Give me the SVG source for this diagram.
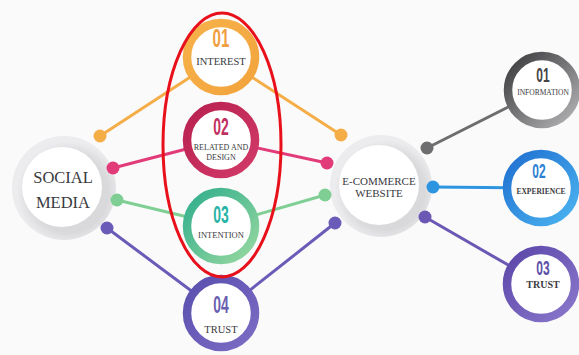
<svg xmlns="http://www.w3.org/2000/svg" width="579" height="355" viewBox="0 0 579 355">
<defs>
<linearGradient id="gOr" x1="0" y1="0" x2="1" y2="1"><stop offset="0" stop-color="#f7b24a"/><stop offset="1" stop-color="#f2a33c"/></linearGradient>
<linearGradient id="gCr" x1="0" y1="0" x2="1" y2="1"><stop offset="0" stop-color="#b8204f"/><stop offset="1" stop-color="#d23a6a"/></linearGradient>
<linearGradient id="gGr" x1="0" y1="0" x2="1" y2="1"><stop offset="0" stop-color="#2fae8c"/><stop offset="1" stop-color="#98d8a0"/></linearGradient>
<linearGradient id="gPu" x1="0" y1="0" x2="1" y2="1"><stop offset="0" stop-color="#5a4fae"/><stop offset="1" stop-color="#7c6cc4"/></linearGradient>
<linearGradient id="gGy" x1="0" y1="0" x2="1" y2="1"><stop offset="0" stop-color="#3a3a3c"/><stop offset="1" stop-color="#b5b5b8"/></linearGradient>
<linearGradient id="gBl" x1="0" y1="0" x2="1" y2="1"><stop offset="0" stop-color="#1f6fd0"/><stop offset="1" stop-color="#4cb4f0"/></linearGradient>
<linearGradient id="gPr" x1="0" y1="0" x2="1" y2="1"><stop offset="0" stop-color="#5b46a8"/><stop offset="1" stop-color="#8a78cc"/></linearGradient>
<radialGradient id="gHalo" cx="0.55" cy="0.55" r="0.5"><stop offset="0.75" stop-color="#d9d9dc"/><stop offset="1" stop-color="#ececee"/></radialGradient>
</defs>
<style>
.lbl{font-family:"Liberation Serif","Times New Roman",serif;fill:#3a3a3e;text-anchor:middle}
.num{font-family:"Liberation Sans",Arial,sans-serif;text-anchor:middle;font-weight:bold}
.ln{fill:none;stroke-width:3;stroke-linecap:round}
.in{fill:#ffffff}
</style>
<rect width="579" height="355" fill="#fafafa"/>
<g id="connectors">
<line class="ln" x1="100" y1="136" x2="221" y2="57" stroke="#f5ad48"/>
<line class="ln" x1="221" y1="57" x2="341" y2="135" stroke="#f5ad48"/>
<line class="ln" x1="113" y1="168" x2="221" y2="140" stroke="#e23b7a"/>
<line class="ln" x1="221" y1="140" x2="327" y2="163" stroke="#e23b7a"/>
<line class="ln" x1="117" y1="200" x2="221" y2="225" stroke="#7fcf94"/>
<line class="ln" x1="221" y1="225" x2="325" y2="195" stroke="#7fcf94"/>
<line class="ln" x1="107" y1="228" x2="221" y2="313" stroke="#6a5bb8"/>
<line class="ln" x1="221" y1="313" x2="335" y2="223" stroke="#6a5bb8"/>
<line class="ln" x1="427" y1="148" x2="542" y2="90" stroke="#6e6e70"/>
<line class="ln" x1="433" y1="187" x2="541" y2="188" stroke="#2d95e0"/>
<line class="ln" x1="425" y1="217" x2="541" y2="284" stroke="#6b58b4"/>
</g>
<g id="social-media">
<circle cx="64" cy="188" r="52" fill="url(#gHalo)"/>
<circle cx="62" cy="187" r="40" class="in"/>
<text class="lbl" x="63" y="183" font-size="16.5">SOCIAL</text>
<text class="lbl" x="63" y="208" font-size="16.5">MEDIA</text>
<circle cx="100" cy="136" r="6.5" fill="#f5ad48"/>
<circle cx="113" cy="168" r="6.5" fill="#e23b7a"/>
<circle cx="117" cy="200" r="6.5" fill="#7fcf94"/>
<circle cx="107" cy="228" r="6.5" fill="#6a5bb8"/>
</g>
<g id="ecommerce">
<circle cx="381" cy="186" r="51" fill="url(#gHalo)"/>
<circle cx="379" cy="185" r="40" class="in"/>
<text class="lbl" x="379" y="185" font-size="11">E-COMMERCE</text>
<text class="lbl" x="379" y="197" font-size="11">WEBSITE</text>
<circle cx="341" cy="135" r="6.5" fill="#f5ad48"/>
<circle cx="327" cy="163" r="6.5" fill="#e23b7a"/>
<circle cx="325" cy="195" r="6.5" fill="#7fcf94"/>
<circle cx="335" cy="223" r="6.5" fill="#6a5bb8"/>
<circle cx="427" cy="148" r="6.5" fill="#6e6e70"/>
<circle cx="433" cy="187" r="6.5" fill="#2d95e0"/>
<circle cx="425" cy="217" r="6.5" fill="#6b58b4"/>
</g>
<g id="interest">
<circle cx="221" cy="57" r="34" class="in" stroke="url(#gOr)" stroke-width="8.5"/>
<text class="num" font-size="26" fill="#f0a040" transform="translate(221,47) scale(0.58,1)">01</text>
<text class="lbl" x="221" y="65" font-size="10.5">INTEREST</text>
</g>
<g id="related-design">
<circle cx="221" cy="140" r="34" class="in" stroke="url(#gCr)" stroke-width="8.5"/>
<text class="num" font-size="24" fill="#c2305f" transform="translate(221,135) scale(0.58,1)">02</text>
<text class="lbl" x="221" y="150" font-size="8">RELATED AND</text>
<text class="lbl" x="221" y="160" font-size="8">DESIGN</text>
</g>
<g id="intention">
<circle cx="221" cy="226" r="34" class="in" stroke="url(#gGr)" stroke-width="8.5"/>
<text class="num" font-size="24" fill="#26b3a3" transform="translate(221,223) scale(0.58,1)">03</text>
<text class="lbl" x="221" y="238" font-size="8.5">INTENTION</text>
</g>
<g id="trust-left">
<circle cx="221" cy="313" r="34" class="in" stroke="url(#gPu)" stroke-width="8.5"/>
<text class="num" font-size="24" fill="#6a5fb0" transform="translate(221,313) scale(0.58,1)">04</text>
<text class="lbl" x="221" y="333" font-size="10.5">TRUST</text>
</g>
<g id="information">
<circle cx="542" cy="90" r="34" class="in" stroke="url(#gGy)" stroke-width="8.5"/>
<text class="num" font-size="20" fill="#444446" transform="translate(543,82) scale(0.6,1)">01</text>
<text class="lbl" x="543" y="95" font-size="7.5">INFORMATION</text>
</g>
<g id="experience">
<circle cx="541" cy="188" r="34" class="in" stroke="url(#gBl)" stroke-width="8.5"/>
<text class="num" font-size="20" fill="#2a7fd4" transform="translate(539,178) scale(0.6,1)">02</text>
<text class="lbl" x="541" y="194" font-size="7.5" font-weight="bold">EXPERIENCE</text>
</g>
<g id="trust-right">
<circle cx="541" cy="284" r="34" class="in" stroke="url(#gPr)" stroke-width="8.5"/>
<text class="num" font-size="20" fill="#5b4fa8" transform="translate(543,275) scale(0.6,1)">03</text>
<text class="lbl" x="543" y="288" font-size="10" font-weight="bold">TRUST</text>
</g>
<g id="highlight">
<ellipse cx="222" cy="145" rx="59" ry="132" fill="none" stroke="#e8101a" stroke-width="3"/>
</g>
</svg>
